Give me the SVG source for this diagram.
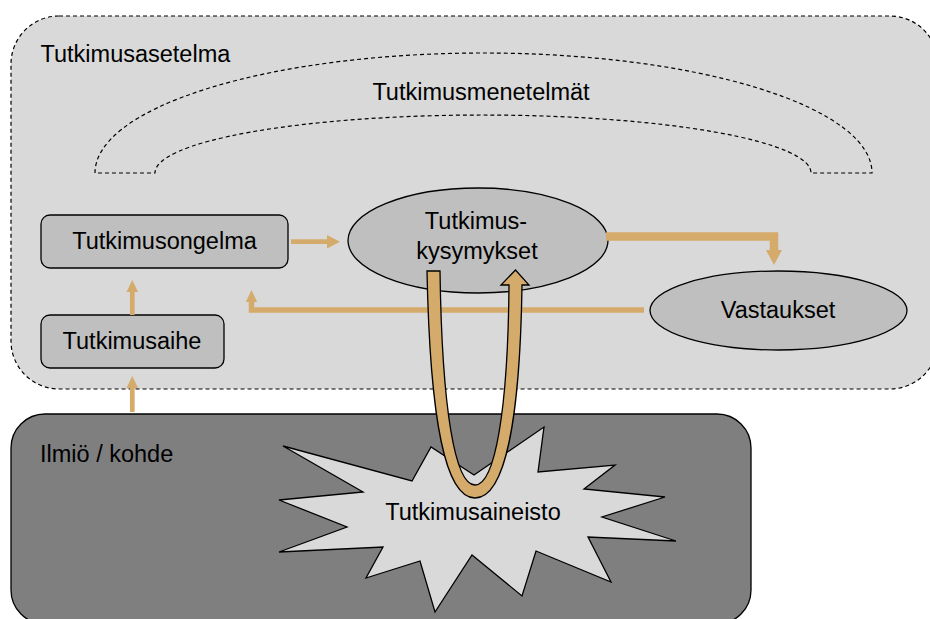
<svg xmlns="http://www.w3.org/2000/svg" width="930" height="619" viewBox="0 0 930 619">
  <style>
    text { font-family: "Liberation Sans", Arial, sans-serif; font-size: 23.5px; fill: #000; }
    .mid { text-anchor: middle; }
    .dash { fill: none; stroke: #000; stroke-width: 1.2; stroke-dasharray: 4 3; }
    .box { fill: #bfbfbf; stroke: #000; stroke-width: 1.3; }
    .flow { fill: none; stroke: #d5ab6b; stroke-linejoin: miter; }
    .head { fill: #d5ab6b; stroke: none; }
  </style>

  <!-- research setting container -->
  <g id="tutkimusasetelma">
    <rect x="11" y="16" width="927" height="373" rx="48" ry="48" fill="#d9d9d9"/>
    <rect x="11" y="16" width="927" height="373" rx="48" ry="48" class="dash"/>
    <text x="40.5" y="62">Tutkimusasetelma</text>
  </g>

  <!-- methods arch -->
  <g id="tutkimusmenetelmat">
    <path class="dash" d="M95,173 A388.5,120 0 0 1 872,173 L811,173 A328,58 0 0 0 155,173 Z"/>
    <text class="mid" x="481" y="100">Tutkimusmenetelmät</text>
  </g>

  <g id="tutkimusongelma">
    <rect class="box" x="41" y="215" width="247" height="53" rx="9" ry="9"/>
    <text class="mid" x="164.5" y="249">Tutkimusongelma</text>
  </g>

  <g id="tutkimusaihe">
    <rect class="box" x="41" y="315" width="183" height="53" rx="9" ry="9"/>
    <text class="mid" x="132" y="349">Tutkimusaihe</text>
  </g>

  <g id="tutkimuskysymykset">
    <ellipse class="box" cx="478" cy="240.5" rx="130" ry="52.5"/>
    <text class="mid" x="476" y="229">Tutkimus-</text>
    <text class="mid" x="477" y="259">kysymykset</text>
  </g>

  <g id="vastaukset">
    <ellipse class="box" cx="778.5" cy="310.5" rx="128.5" ry="39.5"/>
    <text class="mid" x="778" y="318">Vastaukset</text>
  </g>

  <!-- connectors -->
  <g id="connectors">
    <!-- problem to questions -->
    <path class="flow" stroke-width="4.7" d="M291,241.7 H328"/>
    <polygon class="head" points="327,235 340,241.7 327,248.4"/>
    <!-- topic to problem -->
    <path class="flow" stroke-width="4.7" d="M132.3,315 V291"/>
    <polygon class="head" points="126.5,292 132.3,280 138.1,292"/>
    <!-- phenomenon to topic -->
    <path class="flow" stroke-width="4.7" d="M132.3,412 V387"/>
    <polygon class="head" points="126.5,388 132.3,376 138.1,388"/>
    <!-- questions to answers -->
    <path class="flow" stroke-width="8.5" d="M606,236.5 H774 V251"/>
    <polygon class="head" points="766,250 782,250 774,265"/>
    <!-- answers back to problem -->
    <path class="flow" stroke-width="5.5" d="M644,310 H251.5 V301"/>
    <polygon class="head" points="245.8,302 251.5,290 257.2,302"/>
  </g>

  <!-- phenomenon / object -->
  <g id="ilmio">
    <rect x="11" y="414" width="740" height="210" rx="34" ry="34" fill="#7f7f7f" stroke="#000" stroke-width="1.3"/>
    <text x="40" y="462">Ilmiö / kohde</text>
  </g>

  <!-- research data burst -->
  <g id="tutkimusaineisto">
    <polygon fill="#d9d9d9" stroke="#000" stroke-width="1.3" stroke-linejoin="miter"
      points="283,446 412,481 431,447 474,475 544,427 538,472 615,465 584,489 665,497 602,517 676,541 588,537 611,582 536,551 522,596 472,555 435,612 420,561 366,578 383,547 279,552 347,527 279,500 363,492"/>
    <text class="mid" x="473" y="520">Tutkimusaineisto</text>
  </g>

  <!-- U-turn loop between questions and data -->
  <g id="silmukka">
    <path fill="#d5ab6b" stroke="#000" stroke-width="1.3" stroke-linejoin="miter"
      d="M427,271 C430,420 445,498 475,498 C505,498 520,420 522,285 L529,285 L515.5,270 L501,285 L509,285 C508,410 495,485 475,485 C455,485 442,410 440,271 Z"/>
  </g>
</svg>
